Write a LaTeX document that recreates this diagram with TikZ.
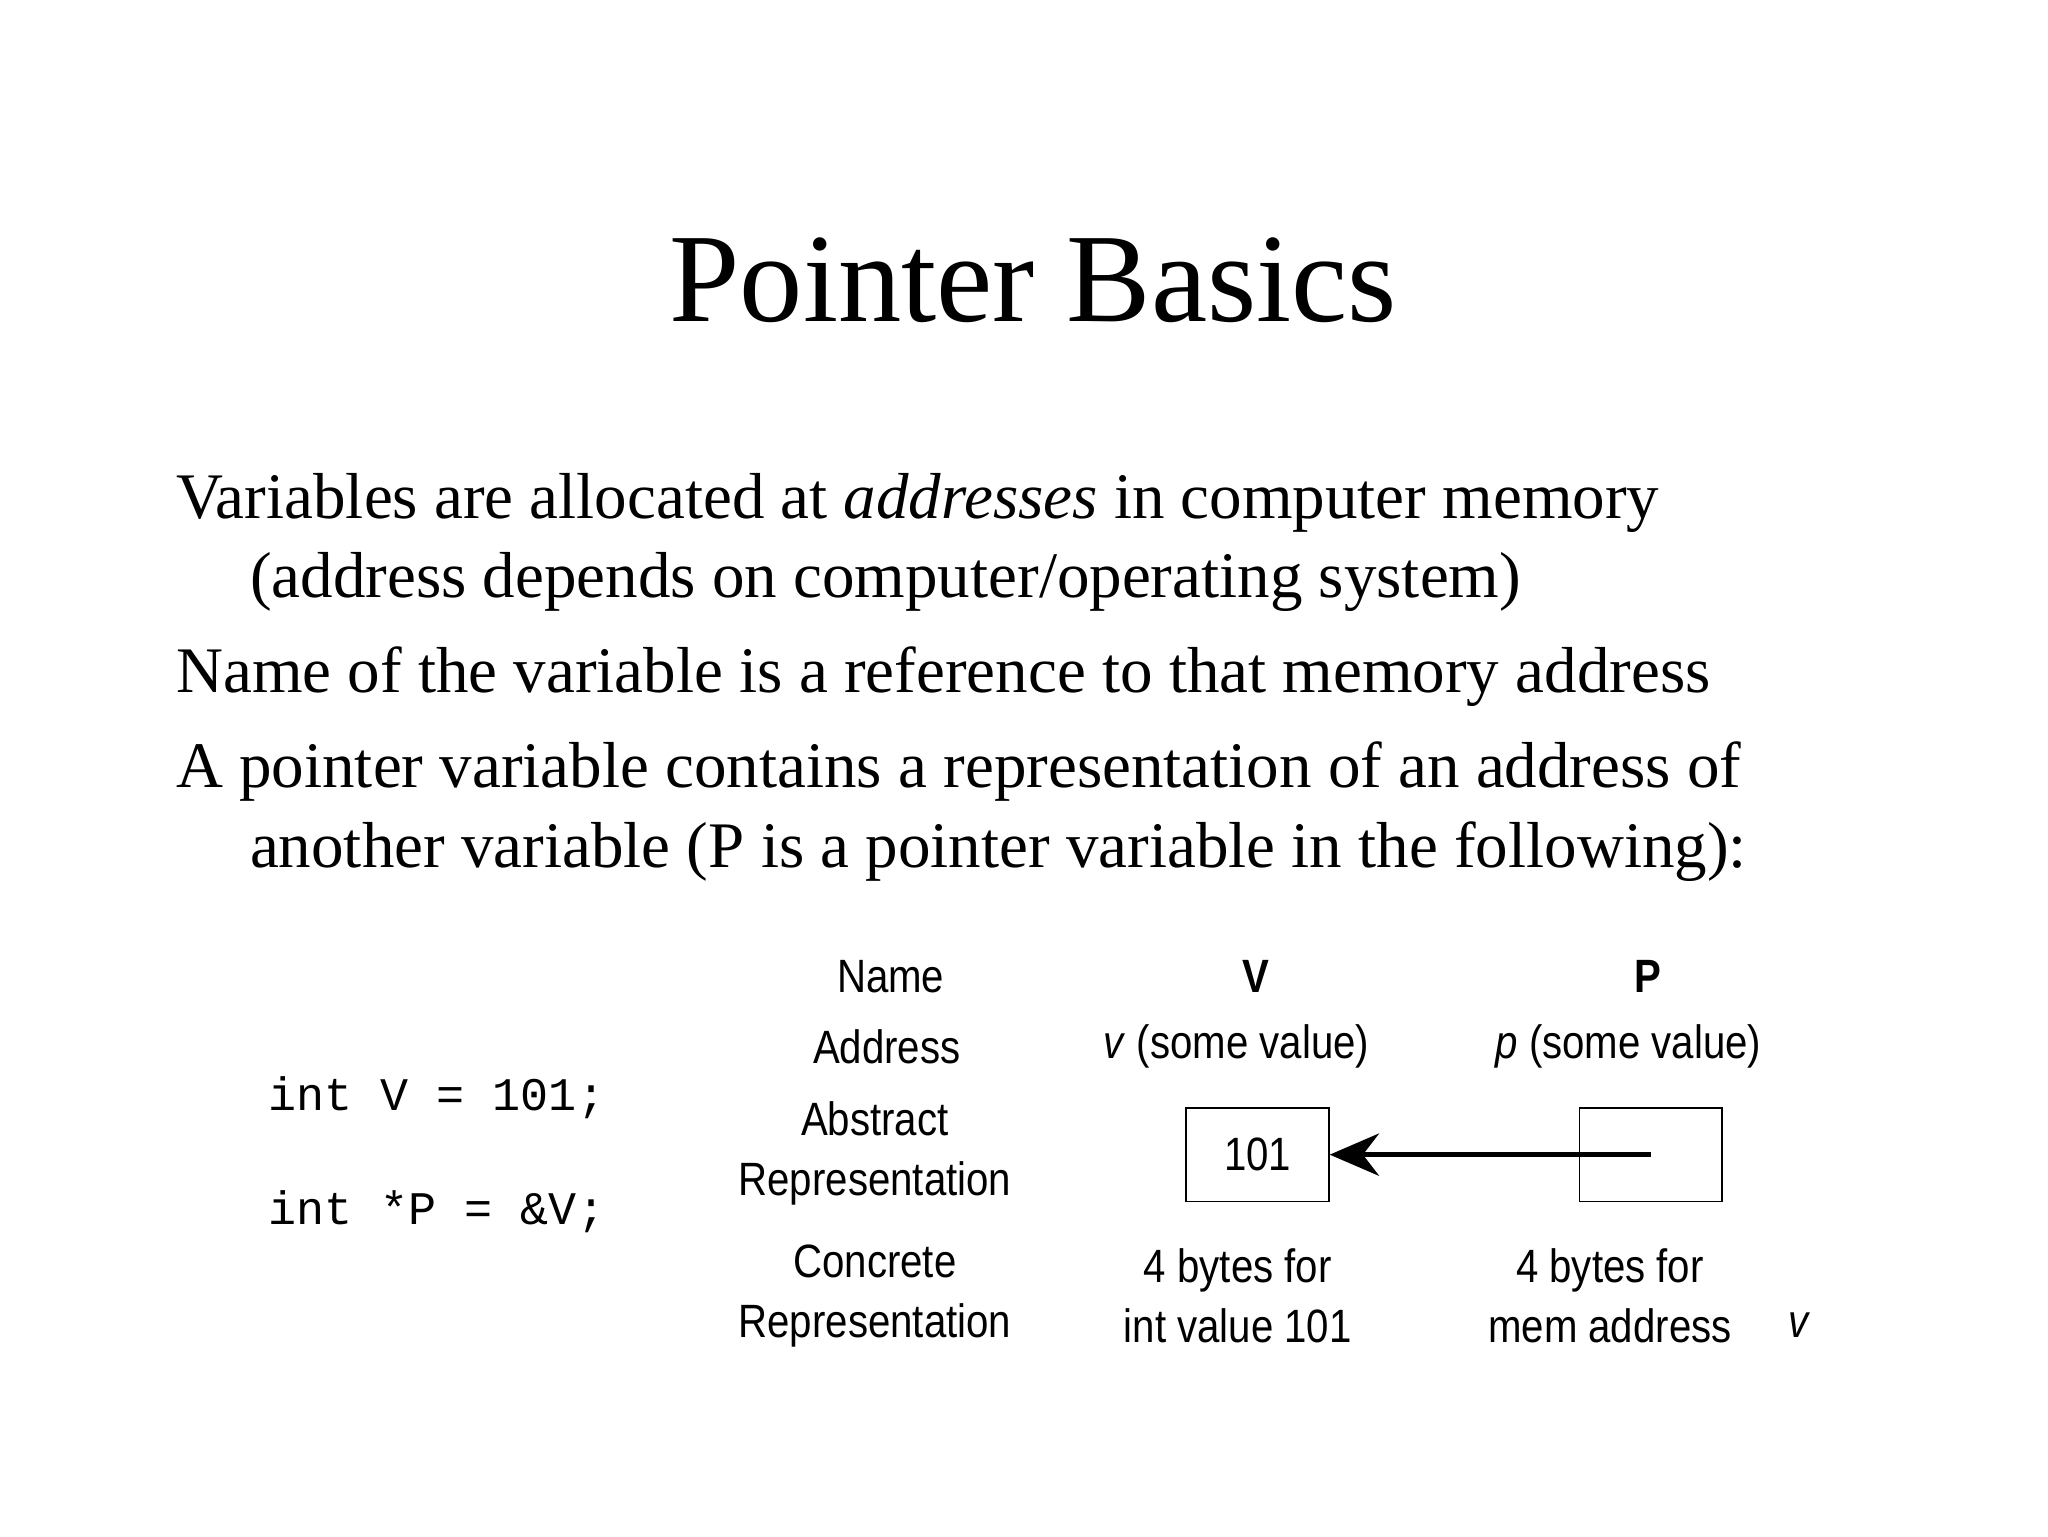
\documentclass[tikz,border=0pt]{standalone}
\usepackage{fontspec}
\setmainfont{Liberation Serif}
\setsansfont[FakeStretch=0.86]{Liberation Sans}
\setmonofont{Liberation Mono}
\usetikzlibrary{arrows.meta}
\begin{document}
\begin{tikzpicture}[x=0.013196cm,y=-0.013196cm,
  body/.style={anchor=west,inner sep=0,font=\fontsize{18.5}{22}\selectfont},
  lab/.style={font=\sffamily\fontsize{13.3}{17}\selectfont,align=center,inner sep=0},
  code/.style={anchor=west,inner sep=0,font=\ttfamily\fontsize{13.3}{16}\selectfont},
  cell/.style={draw,line width=0.5pt,minimum width=108*0.013196cm,minimum height=71*0.013196cm,inner sep=0}]
\useasboundingbox (0,0) rectangle (1552,1164);
\node[inner sep=0,font=\fontsize{36}{42}\selectfont] (title) at (783,212) {Pointer Basics};
\node[body] (l1) at (133,381) {Variables are allocated at \textit{addresses} in computer memory};
\node[body] (l2) at (189,441) {(address depends on computer/operating system)};
\node[body] (l3) at (133,513) {Name of the variable is a reference to that memory address};
\node[body] (l4) at (133,585) {A pointer variable contains a representation of an address of};
\node[body] (l5) at (189,645) {another variable (P is a pointer variable in the following):};
\node[code] (c1) at (203,832) {int V = 101;};
\node[code] (c2) at (203,918) {int *P = \&V;};
\node[lab] (name) at (675,740) {Name};
\node[lab] (vn) at (952,740) {\textbf{V}};
\node[lab] (pn) at (1249,740) {\textbf{P}};
\node[lab] (addr) at (672,793) {Address};
\node[lab] (va) at (937,793) {\textit{v} (some value)};
\node[lab] (pa) at (1234,793) {\textit{p} (some value)};
\node[lab] (abs) at (663,874) {Abstract\\Representation};
\node[cell,lab] (b1) at (953,875) {101};
\node[cell] (b2) at (1251,875) {};
\draw[line width=1.6pt,-{Stealth[length=14pt,width=12pt]}] (b2.center) -- (b1.east);
\node[lab] (con) at (663,982) {Concrete\\Representation};
\node[lab] (cv) at (938,982) {4 bytes for\\int value 101};
\node[lab] (cp) at (1220,982) {4 bytes for\\mem address};
\node[lab] (vv) at (1364,1004) {\textit{v}};
\end{tikzpicture}
\end{document}
